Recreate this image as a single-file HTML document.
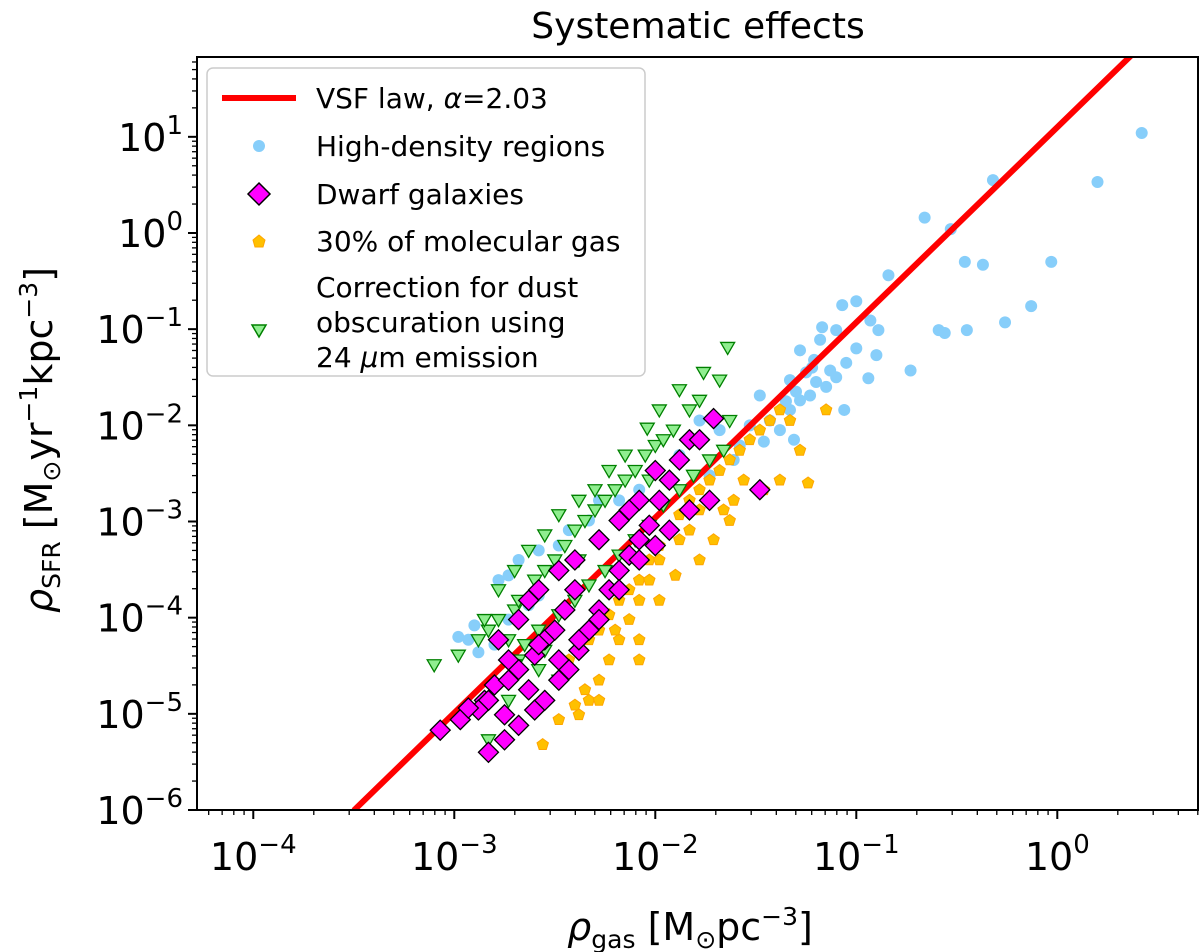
<!DOCTYPE html>
<html><head><meta charset="utf-8"><style>
body{margin:0;background:#fff}
svg{display:block;font-family:"DejaVu Sans","Liberation Sans",sans-serif}
</style></head><body>
<svg id="chart" width="1200" height="952" viewBox="0 0 1200 952">
<text x="698" y="38" font-size="36" text-anchor="middle">Systematic effects</text>
<g id="marks"></g>
<rect x="197" y="57" width="1001" height="753" fill="none" stroke="#000" stroke-width="2"/>
<g id="axes"></g>
<text x="690" y="940" font-size="38" text-anchor="middle"><tspan font-style="italic">ρ</tspan><tspan font-size="25" dy="8">gas</tspan><tspan dy="-8"> [M</tspan><tspan font-size="25" dy="8">⊙</tspan><tspan dy="-8">pc</tspan><tspan font-size="25" dy="-15">−3</tspan><tspan dy="15">]</tspan></text>
<text transform="translate(52,440) rotate(-90)" font-size="38" text-anchor="middle"><tspan font-style="italic">ρ</tspan><tspan font-size="25" dy="8">SFR</tspan><tspan dy="-8"> [M</tspan><tspan font-size="25" dy="8">⊙</tspan><tspan dy="-8">yr</tspan><tspan font-size="25" dy="-15">−1</tspan><tspan dy="15">kpc</tspan><tspan font-size="25" dy="-15">−3</tspan><tspan dy="15">]</tspan></text>
<g>
<rect x="207" y="68" width="438" height="308" rx="6" fill="#fff" fill-opacity="0.85" stroke="#ccc" stroke-width="1.5"/>
<line x1="222" y1="98" x2="296" y2="98" stroke="#f00" stroke-width="6"/>
<text x="316" y="108" font-size="28">VSF law, <tspan font-style="italic">α</tspan>=2.03</text>
<circle cx="259" cy="146" r="6" fill="#87cefa"/>
<text x="316" y="156" font-size="28">High-density regions</text>
<polygon points="259,183 270,194 259,205 248,194" fill="#ff00ff" stroke="#000" stroke-width="1.5"/>
<text x="316" y="204" font-size="28">Dwarf galaxies</text>
<polygon points="259,235 265,240 263,247 255,247 253,240" fill="#ffc000" stroke="#ffa500" stroke-width="1"/>
<text x="316" y="251" font-size="28">30% of molecular gas</text>
<polygon points="252,325 266,325 259,337" fill="#90ee90" stroke="#008000" stroke-width="1.5"/>
<text x="316" y="297" font-size="28"><tspan x="316">Correction for dust</tspan><tspan x="316" dy="35">obscuration using</tspan><tspan x="316" dy="35">24 <tspan font-style="italic">μ</tspan>m emission</tspan></text>
</g>
</svg>
<script>
const xTicks=[-4,-3,-2,-1,0];
const yTicks=[-6,-5,-4,-3,-2,-1,0,1];
const alpha=2.03;
const lawIntercept=1.1;
const lawRange=[-3.5,0.4];
const blueGas=[0.42,-0.32,-0.46,-0.66,-0.53,-0.84,-1.00,-0.93,-1.07,-0.89,-1.10,-1.00,-0.90,-1.17,-1.18,-1.28,-1.21,-1.13,-1.33,-0.94,-0.73,-0.59,-0.45,-0.56,-0.26,-0.37,-0.13,-0.03,0.20,-1.23,-1.28,-1.33,-1.43,-1.53,-1.48,-1.38,-1.31,-1.58,-1.68,-1.78,-1.83,-1.88,-2.00,-2.08,-2.18,-2.28,-2.33,-2.43,-2.48,-2.58,-2.68,-2.73,-2.78,-2.58,-2.63,-2.73,-2.90,-2.93,-2.80,-2.98,-2.88,-1.73,-1.61,-1.46,-1.06,-1.25,-1.20,-1.15,-1.30,-1.10,-1.35,-1.22,-1.05];
const blueSFR=[1.04,0.55,-0.30,0.16,0.04,-0.44,-0.71,-0.91,-0.75,-1.01,-1.01,-1.20,-1.27,-0.98,-1.11,-1.22,-1.32,-1.43,-1.53,-1.51,-1.43,-1.01,-1.01,-1.04,-0.93,-0.33,-0.76,-0.30,0.53,-1.69,-1.74,-1.84,-1.95,-2.00,-1.69,-2.05,-2.15,-2.21,-2.05,-1.95,-2.15,-2.31,-2.47,-2.67,-2.78,-2.78,-2.99,-3.09,-3.25,-3.30,-3.40,-3.56,-3.61,-3.77,-3.87,-4.02,-4.08,-4.23,-4.28,-4.20,-4.36,-2.52,-2.36,-2.17,-1.84,-1.45,-1.55,-1.60,-1.65,-1.50,-1.75,-1.40,-1.35];
const dwarfGas=[-3.07,-2.97,-2.85,-2.80,-2.73,-2.68,-2.60,-2.55,-2.50,-2.45,-2.40,-2.48,-2.58,-2.63,-2.68,-2.78,-2.83,-2.88,-2.75,-2.68,-2.60,-2.55,-2.48,-2.43,-2.38,-2.33,-2.28,-2.23,-2.18,-2.13,-2.08,-2.03,-1.98,-1.93,-1.88,-1.83,-1.71,-1.48,-1.73,-1.83,-1.93,-2.00,-2.08,-2.18,-2.28,-2.38,-2.48,-2.63,-2.75,-2.83,-2.40,-2.28,-2.18,-2.08,-2.00,-2.93,-2.58,-2.73,-2.13,-1.78];
const dwarfSFR=[-5.17,-5.06,-4.86,-4.70,-4.65,-4.54,-4.39,-4.23,-4.13,-3.92,-3.71,-3.51,-3.71,-3.82,-4.02,-4.23,-4.86,-4.96,-5.01,-5.12,-4.96,-4.86,-4.65,-4.54,-4.34,-4.13,-3.92,-3.71,-3.51,-3.35,-3.19,-3.04,-2.78,-2.57,-2.36,-2.15,-1.93,-2.67,-2.78,-2.88,-3.09,-3.25,-3.40,-3.71,-4.02,-4.23,-4.44,-4.75,-5.27,-5.40,-3.40,-3.19,-2.99,-2.78,-2.47,-4.94,-4.28,-4.44,-2.88,-2.15];
const molGas=[-2.56,-2.48,-2.40,-2.35,-2.43,-2.33,-2.28,-2.23,-2.18,-2.13,-2.08,-2.03,-1.98,-1.93,-1.88,-1.83,-1.78,-1.73,-1.68,-1.63,-1.58,-1.53,-1.48,-1.43,-1.38,-1.33,-1.28,-1.56,-1.61,-1.66,-1.78,-1.83,-1.88,-1.98,-2.03,-2.08,-2.13,-2.18,-2.23,-2.28,-2.33,-2.20,-2.08,-1.98,-1.90,-1.78,-1.71,-1.63,-1.46,-1.38,-1.24,-1.15,-2.08,-2.38,-2.28];
const molSFR=[-5.32,-5.06,-4.91,-4.75,-4.44,-4.23,-4.13,-3.97,-3.82,-3.71,-3.61,-3.40,-3.25,-3.09,-2.93,-2.78,-2.67,-2.57,-2.47,-2.36,-2.26,-2.15,-2.05,-1.95,-1.84,-1.95,-2.26,-2.57,-2.78,-2.88,-2.88,-3.09,-3.19,-3.40,-3.61,-3.82,-4.02,-4.23,-4.44,-4.65,-4.86,-4.13,-4.23,-3.82,-3.56,-3.40,-3.19,-2.99,-2.67,-2.57,-2.60,-1.84,-4.44,-5.01,-4.86];
const dustGas=[-3.10,-2.98,-2.88,-2.83,-2.78,-2.70,-2.68,-2.60,-2.55,-2.50,-2.45,-2.40,-2.35,-2.30,-2.25,-2.20,-2.15,-2.10,-2.05,-2.00,-1.96,-1.91,-1.83,-1.78,-1.68,-1.64,-1.76,-1.88,-1.98,-2.04,-2.15,-2.23,-2.30,-2.38,-2.48,-2.55,-2.63,-2.70,-2.78,-2.85,-2.73,-2.65,-2.58,-2.48,-2.40,-2.33,-2.25,-2.18,-2.10,-2.03,-1.96,-1.88,-1.81,-1.73,-1.66,-2.68,-2.58,-2.48,-2.83,-2.73,-2.55,-1.63,-2.03,-2.38,-2.70];
const dustSFR=[-4.49,-4.39,-4.23,-4.13,-4.02,-3.92,-3.82,-3.61,-3.51,-3.40,-3.25,-3.09,-2.99,-2.88,-2.78,-2.67,-2.57,-2.47,-2.31,-2.21,-2.15,-2.05,-1.84,-1.74,-1.53,-1.19,-1.45,-1.63,-1.84,-2.03,-2.31,-2.47,-2.67,-2.78,-2.93,-3.14,-3.30,-3.51,-3.71,-4.02,-4.23,-4.28,-4.13,-3.97,-3.82,-3.66,-3.51,-3.35,-3.19,-3.04,-2.83,-2.67,-2.52,-2.36,-2.26,-4.44,-4.54,-4.65,-5.27,-4.86,-4.34,-1.95,-2.57,-3.40,-4.49];

const NS='http://www.w3.org/2000/svg';
const X0=197,X1=1198,Y0=810,Y1=57;
const xMin=-4.28,xMax=0.70,yMin=-6,yMax=1.83;
function sx(v){return X0+(v-xMin)/(xMax-xMin)*(X1-X0);}
function sy(v){return Y0-(v-yMin)/(yMax-yMin)*(Y0-Y1);}
function mk(tag,attrs,parent){const e=document.createElementNS(NS,tag);for(const k in attrs)e.setAttribute(k,attrs[k]);parent.appendChild(e);return e;}
const marks=document.getElementById('marks');
const axes=document.getElementById('axes');
const clip=mk('clipPath',{id:'pc'},mk('defs',{},marks));
mk('rect',{x:X0,y:Y1,width:X1-X0,height:Y0-Y1},clip);
const g=mk('g',{'clip-path':'url(#pc)'},marks);

blueGas.forEach((v,i)=>{
 const c=mk('circle',{cx:sx(v),cy:sy(blueSFR[i]),r:6,fill:'#87cefa'},g);
 
 
});
const ln=mk('line',{x1:sx(lawRange[0]),y1:sy(alpha*lawRange[0]+lawIntercept),x2:sx(lawRange[1]),y2:sy(alpha*lawRange[1]+lawIntercept),stroke:'#f00','stroke-width':6},g);


dustGas.forEach((v,i)=>{
 const x=sx(v),y=sy(dustSFR[i]);
 const p=mk('polygon',{points:`${x-7},${y-5} ${x+7},${y-5} ${x},${y+7}`,fill:'#90ee90',stroke:'#008000','stroke-width':1.3},g);
 
 
});
molGas.forEach((v,i)=>{
 const x=sx(v),y=sy(molSFR[i]);
 let pts=[];for(let k=0;k<5;k++){const a=-Math.PI/2+k*2*Math.PI/5;pts.push((x+6*Math.cos(a)).toFixed(1)+','+(y+6*Math.sin(a)).toFixed(1));}
 const p=mk('polygon',{points:pts.join(' '),fill:'#ffc000',stroke:'#ffa500','stroke-width':1},g);
 
 
});
dwarfGas.forEach((v,i)=>{
 const x=sx(v),y=sy(dwarfSFR[i]);
 const p=mk('polygon',{points:`${x},${y-10} ${x+10},${y} ${x},${y+10} ${x-10},${y}`,fill:'#ff00ff',stroke:'#000','stroke-width':1.3},g);
 
 
});

function supTxt(t){return t<0?'−'+(-t):String(t);}
xTicks.forEach(t=>{
 const x=sx(t);
 mk('line',{x1:x,y1:Y0,x2:x,y2:Y0+9,stroke:'#000','stroke-width':2},axes);
 for(let k=2;k<10;k++){const xm=sx(t+Math.log10(k));if(xm<X1)mk('line',{x1:xm,y1:Y0,x2:xm,y2:Y0+5,stroke:'#000','stroke-width':1.3},axes);}
 const tx=mk('text',{x:x,y:Y0+60,'font-size':38,'text-anchor':'middle'},axes);
 
 
 tx.innerHTML='10<tspan font-size="26" dy="-17">'+supTxt(t)+'</tspan>';
});
[-5].forEach(t=>{for(let k=5;k<10;k++){const xm=sx(t+Math.log10(k));if(xm>X0)mk('line',{x1:xm,y1:Y0,x2:xm,y2:Y0+5,stroke:'#000','stroke-width':1.3},axes);}});
yTicks.forEach(t=>{
 const y=sy(t);
 mk('line',{x1:X0-9,y1:y,x2:X0,y2:y,stroke:'#000','stroke-width':2},axes);
 for(let k=2;k<10;k++){const ym=sy(t+Math.log10(k));if(ym>Y1)mk('line',{x1:X0-5,y1:ym,x2:X0,y2:ym,stroke:'#000','stroke-width':1.3},axes);}
 const tx=mk('text',{x:X0-14,y:y+14,'font-size':38,'text-anchor':'end'},axes);
 
 
 tx.innerHTML='10<tspan font-size="26" dy="-17">'+supTxt(t)+'</tspan>';
});
</script>
</body></html>
